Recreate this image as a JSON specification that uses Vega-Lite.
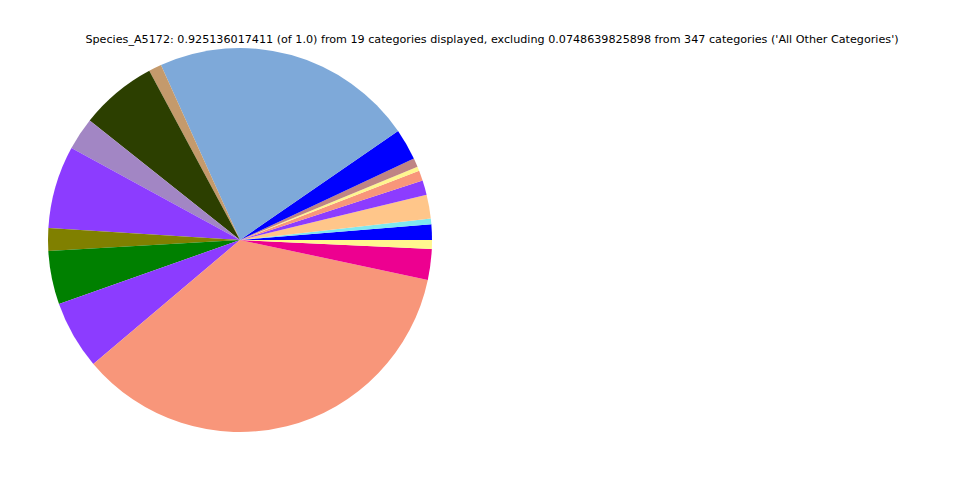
{
  "$schema": "https://vega.github.io/schema/vega-lite/v6.json",
  "width": 960,
  "height": 480,
  "autosize": "none",
  "padding": 0,
  "background": "white",
  "title": {
    "text": "Species_A5172: 0.925136017411 (of 1.0) from 19 categories displayed, excluding 0.0748639825898 from 347 categories ('All Other Categories')",
    "font": "DejaVu Sans",
    "fontSize": 11.17,
    "fontWeight": "normal",
    "color": "black",
    "anchor": "middle",
    "frame": "group",
    "offset": -45,
    "dx": 12
  },
  "data": {
    "values": [
      {"category": "C01", "order": 1, "value": 0.0121},
      {"category": "C02", "order": 2, "value": 0.0044},
      {"category": "C03", "order": 3, "value": 0.0185},
      {"category": "C04", "order": 4, "value": 0.0113},
      {"category": "C05", "order": 5, "value": 0.0080},
      {"category": "C06", "order": 6, "value": 0.0033},
      {"category": "C07", "order": 7, "value": 0.0069},
      {"category": "C08", "order": 8, "value": 0.0244},
      {"category": "C09", "order": 9, "value": 0.2048},
      {"category": "C10", "order": 10, "value": 0.0100},
      {"category": "C11", "order": 11, "value": 0.0599},
      {"category": "C12", "order": 12, "value": 0.0254},
      {"category": "C13", "order": 13, "value": 0.0642},
      {"category": "C14", "order": 14, "value": 0.0177},
      {"category": "C15", "order": 15, "value": 0.0416},
      {"category": "C16", "order": 16, "value": 0.0532},
      {"category": "C17", "order": 17, "value": 0.3284},
      {"category": "C18", "order": 18, "value": 0.0239},
      {"category": "C19", "order": 19, "value": 0.0069}
    ]
  },
  "mark": {"type": "arc", "x": 240, "y": 240, "outerRadius": 192},
  "encoding": {
    "theta": {
      "field": "value",
      "type": "quantitative",
      "stack": true,
      "scale": {"range": [1.5707963, -4.712389]}
    },
    "order": {"field": "order", "type": "quantitative"},
    "color": {
      "field": "category",
      "type": "nominal",
      "legend": null,
      "scale": {
        "domain": ["C01","C02","C03","C04","C05","C06","C07","C08","C09","C10","C11","C12","C13","C14","C15","C16","C17","C18","C19"],
        "range": ["#0000ff","#7fe8f0","#ffc68a","#8c3cff","#f8967a","#fff68f","#bf8484","#0000ff","#7ea9d9","#c49a6c","#2c3f00","#a286c4","#8c3cff","#808000","#008000","#8c3cff","#f8967a","#ed0090","#fff68f"]
      }
    }
  }
}
